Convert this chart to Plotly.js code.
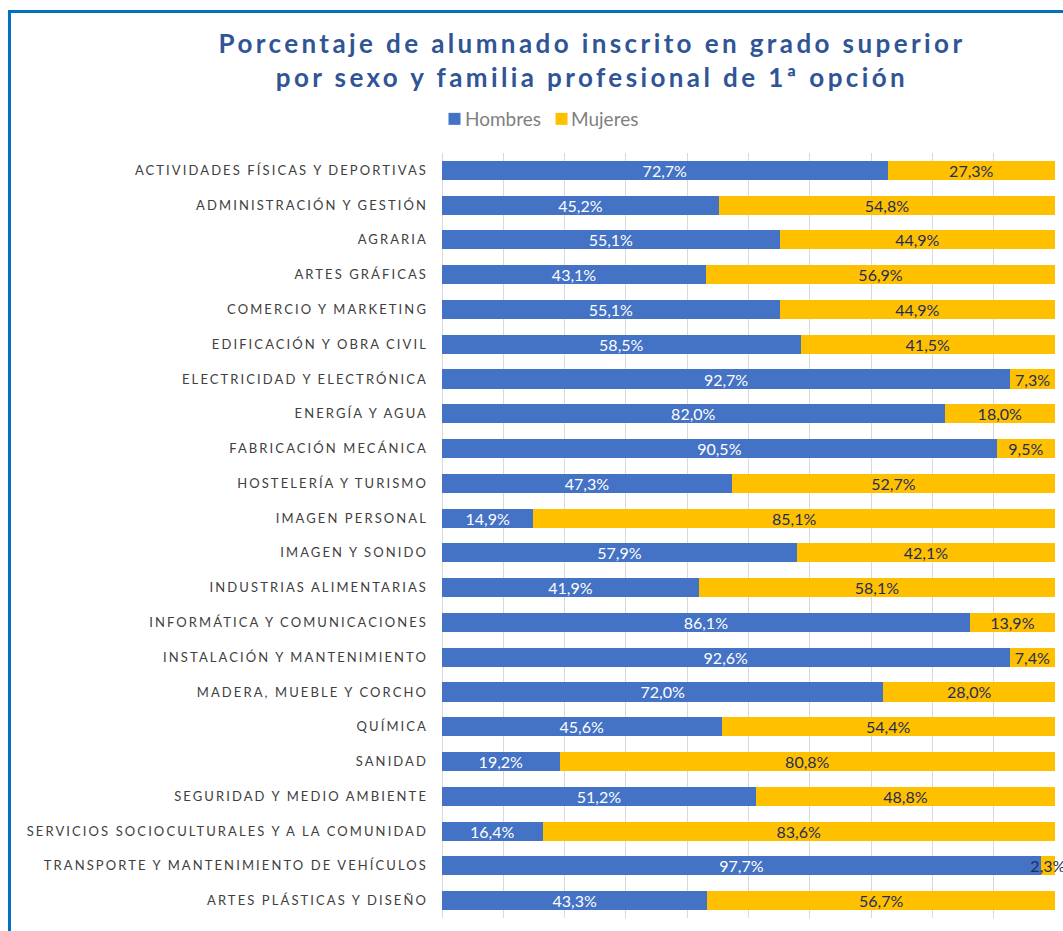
<!DOCTYPE html>
<html>
<head>
<meta charset="utf-8">
<script src="https://cdn.plot.ly/plotly-3.0.1.min.js"></script>
<style>
html,body{margin:0;padding:0;background:#fff;overflow:hidden;}
#wrap{position:relative;width:1063px;height:931px;}
#chart{position:absolute;left:0;top:0;width:1063px;height:931px;}
#frame{position:absolute;left:8px;top:10px;width:1100px;height:1000px;border-left:3px solid #0070C0;border-top:3px solid #0070C0;pointer-events:none;z-index:5;}
.ytick text{letter-spacing:2.1px;}
.gtitle{letter-spacing:3.4px;}
</style>
</head>
<body>
<div id="wrap"><div id="chart"></div><div id="frame"></div></div>
<script>
const categories = [
  "ACTIVIDADES FÍSICAS Y DEPORTIVAS",
  "ADMINISTRACIÓN Y GESTIÓN",
  "AGRARIA",
  "ARTES GRÁFICAS",
  "COMERCIO Y MARKETING",
  "EDIFICACIÓN Y OBRA CIVIL",
  "ELECTRICIDAD Y ELECTRÓNICA",
  "ENERGÍA Y AGUA",
  "FABRICACIÓN MECÁNICA",
  "HOSTELERÍA Y TURISMO",
  "IMAGEN PERSONAL",
  "IMAGEN Y SONIDO",
  "INDUSTRIAS ALIMENTARIAS",
  "INFORMÁTICA Y COMUNICACIONES",
  "INSTALACIÓN Y MANTENIMIENTO",
  "MADERA, MUEBLE Y CORCHO",
  "QUÍMICA",
  "SANIDAD",
  "SEGURIDAD Y MEDIO AMBIENTE",
  "SERVICIOS SOCIOCULTURALES Y A LA COMUNIDAD",
  "TRANSPORTE Y MANTENIMIENTO DE VEHÍCULOS",
  "ARTES PLÁSTICAS Y DISEÑO"
];
const hombres = [72.7,45.2,55.1,43.1,55.1,58.5,92.7,82.0,90.5,47.3,14.9,57.9,41.9,86.1,92.6,72.0,45.6,19.2,51.2,16.4,97.7,43.3];
const mujeres = [27.3,54.8,44.9,56.9,44.9,41.5,7.3,18.0,9.5,52.7,85.1,42.1,58.1,13.9,7.4,28.0,54.4,80.8,48.8,83.6,2.3,56.7];
const seriesNames = ["Hombres","Mujeres"];
const fontFam = "Lato, 'Open Sans', sans-serif";

const traces = [
  {type:'bar', orientation:'h', name:seriesNames[0], y:categories, x:hombres,
   marker:{color:'#4472C4'}, texttemplate:'%{x:.1f}%', textposition:'inside',
   insidetextanchor:'middle', constraintext:'none', textangle:0, cliponaxis:false,
   textfont:{color:'#FFFFFF', size:16, family:fontFam}, hoverinfo:'x+y'},
  {type:'bar', orientation:'h', name:seriesNames[1], y:categories, x:mujeres,
   marker:{color:'#FFC000'}, texttemplate:'%{x:.1f}%', textposition:'inside',
   insidetextanchor:'middle', constraintext:'none', textangle:0, cliponaxis:false,
   textfont:{color:'#1F2D5A', size:16, family:fontFam}, hoverinfo:'x+y'}
];

const layout = {
  width:1063, height:931,
  barmode:'stack', bargap:0.45,
  separators:',.',
  font:{family:fontFam, color:'#404040'},
  paper_bgcolor:'#FFFFFF', plot_bgcolor:'#FFFFFF',
  margin:{l:442, r:8, t:153, b:13, pad:0},
  title:{text:'Porcentaje de alumnado inscrito en grado superior<br>por sexo y familia profesional de 1ª opción',
         font:{family:fontFam, size:26, color:'#2F5597', weight:'bold'},
         x:592/1063, xanchor:'center', xref:'container',
         y:1-53/931, yanchor:'top', yref:'container'},
  legend:{orientation:'h', xref:'container', yref:'container', x:441/1063, xanchor:'left',
          y:1-100/931, yanchor:'top', font:{size:19, color:'#7F7F7F', family:fontFam},
          itemwidth:30, traceorder:'normal'},
  xaxis:{range:[0,100], dtick:10, showticklabels:false, showgrid:true, gridcolor:'#D9D9D9',
         gridwidth:1, zeroline:true, zerolinecolor:'#D9D9D9', zerolinewidth:1, fixedrange:true},
  yaxis:{autorange:'reversed', ticks:'', ticklabelstandoff:13,
         tickfont:{size:13, color:'#404040', family:fontFam}, showgrid:false, fixedrange:true}
};
const gd = document.getElementById('chart');
Plotly.newPlot(gd, traces, layout, {displayModeBar:false, staticPlot:true}).then(()=>{
  const re = /translate\(\s*([-\d.e]+)[\s,]+([-\d.e]+)\s*\)/;
  const lg = gd.querySelector('.legend');
  if(!lg) return;
  const m = re.exec(lg.getAttribute('transform')||'');
  const lx = m ? +m[1] : 0;
  const centers = [454.5, 561.5];
  const textStarts = [465, 571];
  gd.querySelectorAll('.legend .traces').forEach((t,i)=>{
    const tm = re.exec(t.getAttribute('transform')||'');
    const ty = tm ? +tm[2] : 0;
    const gx = centers[i]-20-lx;
    t.setAttribute('transform', 'translate('+gx+','+ty+')');
    const tx = t.querySelector('.legendtext');
    if(tx) tx.setAttribute('x', textStarts[i]-(centers[i]-20));
  });
});
</script>
</body>
</html>
